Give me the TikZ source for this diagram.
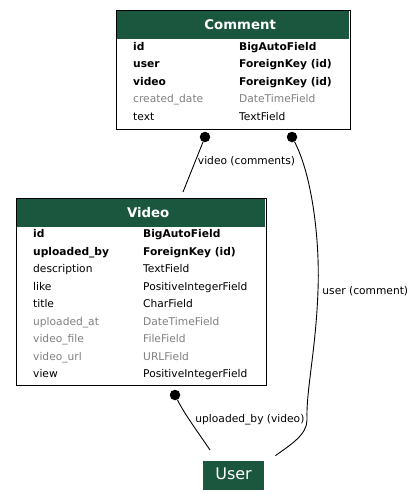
\documentclass[tikz,border=0pt]{standalone}
\usepackage{fontspec}
\setmainfont{DejaVu Sans}
\usepackage{xcolor}
\usetikzlibrary{calc}

\definecolor{headgreen}{HTML}{1B563F}
\definecolor{fieldgray}{HTML}{808080}

\begin{document}
\begin{tikzpicture}[x=1pt, y=-1pt,
    entity/.style={rectangle, draw, line width=1pt, inner sep=0pt, anchor=north west},
    head/.style={rectangle, fill=headgreen, text=white, inner sep=0pt, anchor=north west, font=\fontsize{13.3}{16}\selectfont\bfseries},
    fields/.style={inner sep=0pt, anchor=north west, font=\fontsize{10.67}{17.5}\selectfont},
    dot/.style={circle, fill=black, inner sep=0pt, minimum size=10.5pt},
    relation/.style={line width=0.9pt},
    rlabel/.style={inner sep=0pt, anchor=west, font=\fontsize{10.67}{13}\selectfont}
]
    \path[use as bounding box, fill=white] (0,0) rectangle (413,504);

    % Comment table
    \node[entity, minimum width=234, minimum height=119] (comment) at (116,10) {};
    \node[head, minimum width=232, minimum height=28] (commenthead) at (117,11) {\hspace*{14pt}\raisebox{1.5pt}{Comment}};
    \node[fields] (commentfields) at (133,37.75) {\begin{tabular}{@{}p{106pt}@{}l@{}}
        \textbf{id} & \textbf{BigAutoField}\\
        \textbf{user} & \textbf{ForeignKey (id)}\\
        \textbf{video} & \textbf{ForeignKey (id)}\\
        \textcolor{fieldgray}{created\_date} & \textcolor{fieldgray}{DateTimeField}\\
        text & TextField
    \end{tabular}};

    % Video table
    \node[entity, minimum width=250, minimum height=187] (video) at (16,198) {};
    \node[head, minimum width=248, minimum height=28] (videohead) at (17,199) {\hspace*{14pt}\raisebox{1.5pt}{Video}};
    \node[fields] (videofields) at (33,225.4) {\begin{tabular}{@{}p{110pt}@{}l@{}}
        \textbf{id} & \textbf{BigAutoField}\\
        \textbf{uploaded\_by} & \textbf{ForeignKey (id)}\\
        description & TextField\\
        like & PositiveIntegerField\\
        title & CharField\\
        \textcolor{fieldgray}{uploaded\_at} & \textcolor{fieldgray}{DateTimeField}\\
        \textcolor{fieldgray}{video\_file} & \textcolor{fieldgray}{FileField}\\
        \textcolor{fieldgray}{video\_url} & \textcolor{fieldgray}{URLField}\\
        view & PositiveIntegerField
    \end{tabular}};

    % User
    \node[rectangle, fill=headgreen, text=white, inner sep=0pt, anchor=north west,
        minimum width=61.3, minimum height=28.6, font=\fontsize{16}{19}\selectfont] (user) at (202.7,460.7) {\raisebox{3pt}{User}};

    % Relation ends
    \node[dot] (commentvideo) at (205,137) {};
    \node[dot] (commentuser) at (292,137) {};
    \node[dot] (videouser) at (175,395) {};

    % Relations
    \draw[relation] (commentvideo) -- ($(video.north west)+(167,-6)$)
        node[rlabel] at (197.5,161) {video (comments)};
    \draw[relation] (commentuser) .. controls (312,175) and (320,240) .. (318,290)
        .. controls (316,350) and (306,390) .. (307,420)
        .. controls (307,435) and (290,445) .. ($(user.north east)+(11,-5)$)
        node[rlabel] at (322,291) {user (comment)};
    \draw[relation] (videouser) .. controls (185,415) and (200,435) .. ($(user.north west)+(7.3,-10.7)$)
        node[rlabel] at (195,420) {uploaded\_by (video)};
\end{tikzpicture}
\end{document}
